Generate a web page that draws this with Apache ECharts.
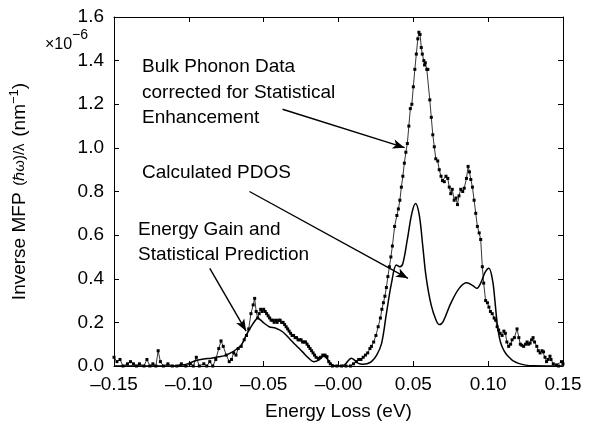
<!DOCTYPE html>
<html lang="en">
<head>
    <meta charset="UTF-8">
    <title>Inverse MFP</title>
    <script src="https://cdn.jsdelivr.net/npm/echarts@6/dist/echarts.min.js"></script>
    <style>
        body { margin: 0; background: #fff; }
        #main { width: 591px; height: 426px; }
    </style>
</head>
<body>
    <div id="main"></div>
    <script>
        // values in units of 1e-6 nm^-1
        var phononX = [-0.150, -0.148, -0.146, -0.144, -0.141, -0.139, -0.137, -0.135, -0.133, -0.130, -0.128, -0.126, -0.124, -0.122, -0.1205, -0.119, -0.117, -0.114, -0.111, -0.108, -0.105, -0.102, -0.099, -0.097, -0.095, -0.093, -0.090, -0.088, -0.086, -0.084, -0.082, -0.080, -0.0785, -0.077, -0.075, -0.073, -0.0715, -0.070, -0.0685, -0.067, -0.065, -0.063, -0.0615, -0.060, -0.0585, -0.057, -0.056, -0.055, -0.054, -0.053, -0.052, -0.051, -0.050, -0.049, -0.048, -0.047, -0.046, -0.045, -0.044, -0.043, -0.042, -0.041, -0.040, -0.039, -0.038, -0.037, -0.036, -0.035, -0.034, -0.033, -0.032, -0.031, -0.030, -0.029, -0.028, -0.027, -0.026, -0.025, -0.024, -0.023, -0.022, -0.021, -0.020, -0.019, -0.018, -0.017, -0.016, -0.015, -0.0135, -0.012, -0.0105, -0.009, -0.0077, -0.0065, -0.0055, -0.004, -0.001, 0.002, 0.005, 0.008, 0.010, 0.012, 0.0135, 0.015, 0.0165, 0.018, 0.0195, 0.021, 0.022, 0.0235, 0.025, 0.0265, 0.028, 0.029, 0.030, 0.031, 0.032, 0.033, 0.034, 0.035, 0.036, 0.0375, 0.039, 0.040, 0.041, 0.042, 0.043, 0.044, 0.045, 0.046, 0.047, 0.048, 0.049, 0.050, 0.051, 0.052, 0.053, 0.0537, 0.0545, 0.0553, 0.056, 0.057, 0.0575, 0.058, 0.059, 0.0597, 0.061, 0.062, 0.063, 0.064, 0.065, 0.0663, 0.0673, 0.0685, 0.0695, 0.0707, 0.0718, 0.073, 0.074, 0.075, 0.076, 0.0773, 0.0785, 0.0795, 0.0805, 0.0817, 0.083, 0.084, 0.0855, 0.0866, 0.0875, 0.0884, 0.0895, 0.0906, 0.0917, 0.0928, 0.094, 0.095, 0.0961, 0.097, 0.0983, 0.0995, 0.1005, 0.1015, 0.1027, 0.104, 0.105, 0.106, 0.107, 0.108, 0.1093, 0.1105, 0.1115, 0.1125, 0.1137, 0.115, 0.116, 0.1175, 0.1193, 0.1205, 0.1215, 0.1225, 0.1237, 0.125, 0.126, 0.127, 0.128, 0.129, 0.130, 0.131, 0.1325, 0.1335, 0.1347, 0.136, 0.137, 0.138, 0.139, 0.140, 0.1413, 0.142, 0.1435, 0.1457, 0.147, 0.149, 0.150];
        var phononY = [0.04, 0.02, 0.03, 0.00, 0.01, 0.02, 0.01, 0.00, 0.01, 0.00, 0.03, 0.00, 0.01, 0.00, 0.07, 0.02, 0.00, 0.01, 0.00, 0.00, 0.01, 0.00, 0.01, 0.00, 0.04, 0.00, 0.01, 0.00, 0.02, 0.00, 0.03, 0.08, 0.115, 0.09, 0.05, 0.02, 0.03, 0.06, 0.05, 0.08, 0.09, 0.12, 0.14, 0.17, 0.24, 0.28, 0.31, 0.25, 0.22, 0.24, 0.26, 0.25, 0.26, 0.25, 0.24, 0.23, 0.22, 0.21, 0.21, 0.20, 0.21, 0.20, 0.21, 0.21, 0.20, 0.20, 0.19, 0.18, 0.17, 0.16, 0.15, 0.14, 0.14, 0.13, 0.13, 0.12, 0.12, 0.12, 0.11, 0.11, 0.11, 0.10, 0.09, 0.08, 0.07, 0.06, 0.05, 0.04, 0.035, 0.04, 0.05, 0.05, 0.043, 0.02, 0.01, 0.00, 0.00, 0.00, 0.00, 0.00, 0.01, 0.02, 0.03, 0.03, 0.04, 0.05, 0.06, 0.08, 0.09, 0.11, 0.14, 0.18, 0.22, 0.26, 0.29, 0.32, 0.36, 0.41, 0.455, 0.50, 0.55, 0.64, 0.69, 0.72, 0.76, 0.82, 0.87, 0.93, 0.98, 1.02, 1.10, 1.18, 1.20, 1.28, 1.36, 1.43, 1.50, 1.53, 1.52, 1.46, 1.43, 1.40, 1.38, 1.39, 1.36, 1.36, 1.22, 1.14, 1.06, 1.005, 0.95, 0.94, 0.90, 0.87, 0.85, 0.845, 0.87, 0.86, 0.82, 0.79, 0.81, 0.76, 0.77, 0.74, 0.78, 0.81, 0.80, 0.815, 0.86, 0.915, 0.89, 0.855, 0.82, 0.76, 0.70, 0.64, 0.61, 0.58, 0.455, 0.38, 0.30, 0.29, 0.27, 0.25, 0.24, 0.22, 0.21, 0.18, 0.165, 0.15, 0.14, 0.16, 0.15, 0.11, 0.09, 0.10, 0.12, 0.13, 0.17, 0.13, 0.10, 0.095, 0.09, 0.10, 0.11, 0.10, 0.105, 0.12, 0.13, 0.11, 0.09, 0.07, 0.06, 0.07, 0.065, 0.04, 0.02, 0.03, 0.045, 0.03, 0.01, 0.005, 0.00, 0.02, 0.01];

        var pdosX = [-0.150, -0.110, -0.104, -0.100, -0.095, -0.090, -0.085, -0.080, -0.075, -0.0705, -0.068, -0.065, -0.0617, -0.0584, -0.056, -0.054, -0.052, -0.0496, -0.0463, -0.0419, -0.0374, -0.033, -0.0286, -0.0242, -0.0198, -0.0165, -0.0132, -0.010, -0.0077, -0.0055, -0.003, 0.000, 0.004, 0.006, 0.0086, 0.011, 0.0133, 0.016, 0.019, 0.022, 0.0255, 0.0288, 0.032, 0.0354, 0.0387, 0.041, 0.043, 0.046, 0.049, 0.0515, 0.054, 0.0563, 0.0585, 0.0619, 0.0652, 0.0674, 0.070, 0.075, 0.0806, 0.0857, 0.0895, 0.0923, 0.095, 0.098, 0.1005, 0.103, 0.1045, 0.106, 0.1075, 0.1093, 0.112, 0.1148, 0.117, 0.1203, 0.125, 0.130, 0.150];
        var pdosY = [0, 0, 0.005, 0.012, 0.025, 0.032, 0.036, 0.042, 0.05, 0.066, 0.078, 0.096, 0.14, 0.18, 0.205, 0.22, 0.21, 0.196, 0.18, 0.173, 0.157, 0.127, 0.096, 0.066, 0.035, 0.02, 0.027, 0.045, 0.035, 0.012, 0.002, 0, 0.005, 0.02, 0.036, 0.025, 0.012, 0.008, 0.01, 0.02, 0.05, 0.104, 0.24, 0.38, 0.463, 0.455, 0.47, 0.58, 0.70, 0.745, 0.69, 0.55, 0.41, 0.28, 0.21, 0.19, 0.205, 0.287, 0.356, 0.382, 0.37, 0.356, 0.38, 0.43, 0.448, 0.39, 0.30, 0.196, 0.13, 0.088, 0.055, 0.035, 0.022, 0.012, 0.004, 0.001, 0];

        var xTickLabels = ['\u20130.15', '\u20130.10', '\u20130.05', '\u20130.00', '0.05', '0.10', '0.15'];
        var yTickLabels = ['0.0', '0.2', '0.4', '0.6', '0.8', '1.0', '1.2', '1.4', '1.6'];

        // annotation arrows [x1, y1, x2, y2] in data units
        var arrows = [
            [-0.0374, 1.177, 0.0442, 1.001],
            [-0.0595, 0.800, 0.0464, 0.402],
            [-0.0860, 0.448, -0.0617, 0.160]
        ];

        var FONT = '"Liberation Sans", Arial, Helvetica, sans-serif';

        function pairs(xs, ys) {
            return xs.map(function (x, i) { return [x, ys[i]]; });
        }

        var chartDom = document.getElementById('main');
        var myChart = echarts.init(chartDom);

        var axisLine = { show: true, onZero: false, lineStyle: { color: '#000', width: 1 } };
        var axisTick = { show: true, inside: true, length: 5, lineStyle: { color: '#000', width: 1 } };

        var option = {
            animation: false,
            backgroundColor: '#fff',
            grid: { left: 110, right: 28, top: 17, bottom: 60 },
            xAxis: [
                {
                    type: 'value', min: -0.15, max: 0.15, interval: 0.05,
                    axisLine: axisLine, axisTick: axisTick, splitLine: { show: false },
                    axisLabel: {
                        color: '#000', fontSize: 19, fontFamily: FONT, margin: 9,
                        formatter: function (v) { return xTickLabels[Math.round((v + 0.15) / 0.05)]; }
                    },
                    name: 'Energy Loss (eV)', nameLocation: 'middle', nameGap: 36,
                    nameTextStyle: { color: '#000', fontSize: 19, fontFamily: FONT }
                },
                {
                    type: 'value', position: 'top', min: -0.15, max: 0.15, interval: 0.05,
                    axisLine: axisLine, axisTick: axisTick, axisLabel: { show: false }, splitLine: { show: false }
                }
            ],
            yAxis: [
                {
                    type: 'value', min: 0, max: 1.6, interval: 0.2,
                    axisLine: axisLine, axisTick: axisTick, splitLine: { show: false },
                    axisLabel: {
                        color: '#000', fontSize: 19, fontFamily: FONT, margin: 10,
                        formatter: function (v) { return yTickLabels[Math.round(v / 0.2)]; }
                    },
                    name: '{a|Inverse MFP}  {b|(\u210F\u03C9)/\u03BB}  {a|(nm}{s|\u22121}{a|)}',
                    nameLocation: 'middle', nameRotate: 90, nameGap: 82,
                    nameTextStyle: {
                        color: '#000', fontFamily: FONT, lineHeight: 24,
                        rich: {
                            a: { fontSize: 19, fontFamily: FONT, color: '#000' },
                            b: { fontSize: 15, fontFamily: FONT, color: '#000' },
                            s: { fontSize: 13, fontFamily: FONT, color: '#000', verticalAlign: 'top' }
                        }
                    }
                },
                {
                    type: 'value', position: 'right', min: 0, max: 1.6, interval: 0.2,
                    axisLine: axisLine, axisTick: axisTick, axisLabel: { show: false }, splitLine: { show: false }
                }
            ],
            graphic: [
                { type: 'text', left: 45, top: 37, style: { text: '\u00D710', font: '16px ' + FONT, fill: '#000' } },
                { type: 'text', left: 72, top: 28, style: { text: '\u22126', font: '14px ' + FONT, fill: '#000' } },
                { type: 'text', left: 142, top: 57, style: { text: 'Bulk Phonon Data', font: '19px ' + FONT, fill: '#000' } },
                { type: 'text', left: 142, top: 83, style: { text: 'corrected for Statistical', font: '19px ' + FONT, fill: '#000' } },
                { type: 'text', left: 142, top: 108, style: { text: 'Enhancement', font: '19px ' + FONT, fill: '#000' } },
                { type: 'text', left: 142, top: 163, style: { text: 'Calculated PDOS', font: '19px ' + FONT, fill: '#000' } },
                { type: 'text', left: 138, top: 220, style: { text: 'Energy Gain and', font: '19px ' + FONT, fill: '#000' } },
                { type: 'text', left: 138, top: 245, style: { text: 'Statistical Prediction', font: '19px ' + FONT, fill: '#000' } }
            ],
            series: [
                {
                    name: 'Bulk Phonon Data',
                    type: 'line',
                    data: pairs(phononX, phononY),
                    showSymbol: true,
                    symbol: 'rect',
                    symbolSize: 3,
                    itemStyle: { color: '#000' },
                    lineStyle: { color: '#000', width: 0.8 },
                    silent: true,
                    markLine: {
                        silent: true,
                        symbol: ['none', 'arrow'],
                        symbolSize: [7, 12],
                        label: { show: false },
                        lineStyle: { color: '#000', width: 1.4, type: 'solid' },
                        data: arrows.map(function (a) {
                            return [{ coord: [a[0], a[1]] }, { coord: [a[2], a[3]] }];
                        })
                    }
                },
                {
                    name: 'Calculated PDOS',
                    type: 'line',
                    data: pairs(pdosX, pdosY),
                    showSymbol: false,
                    smooth: 0.35,
                    lineStyle: { color: '#000', width: 1.5 },
                    silent: true
                }
            ]
        };

        myChart.setOption(option);
    </script>
</body>
</html>
